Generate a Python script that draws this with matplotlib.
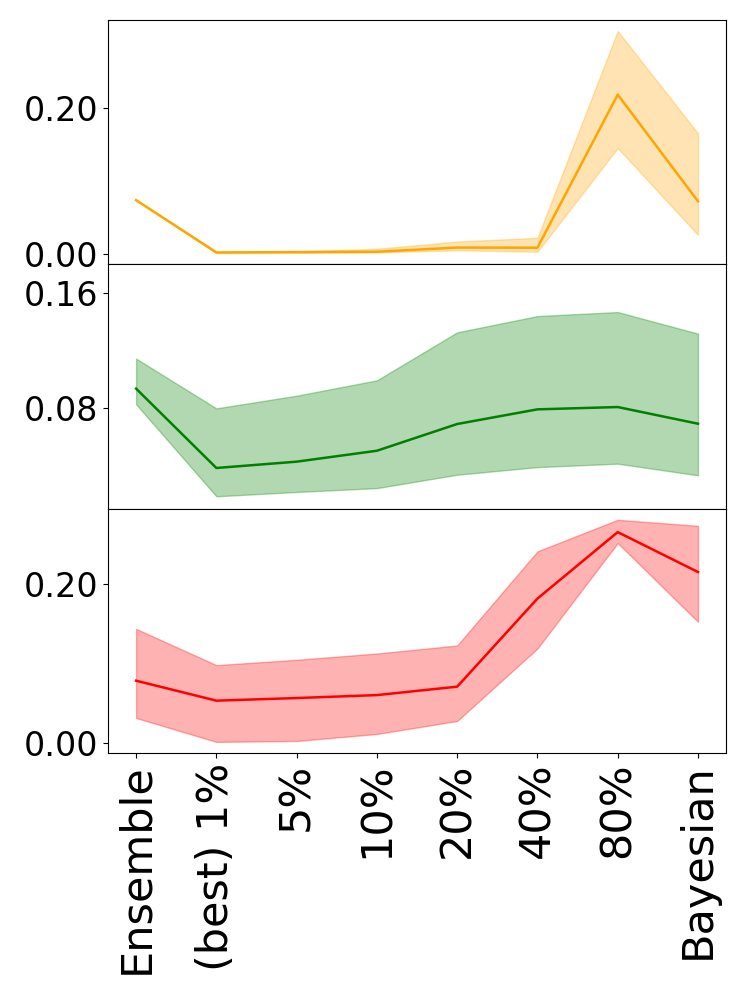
import matplotlib
matplotlib.use("Agg")
import matplotlib.pyplot as plt
import numpy as np

# x categories
labels = ["Ensemble", "(best) 1%", "5%", "10%", "20%", "40%", "80%", "Bayesian"]

# top panel (orange)
orange_mean = [0.0736, 0.002, 0.0025, 0.003, 0.0087, 0.0085, 0.218, 0.072]
orange_low = [0.0736, 0.001, 0.0015, 0.002, 0.005, 0.003, 0.145, 0.026]
orange_high = [0.0736, 0.003, 0.0035, 0.007, 0.017, 0.022, 0.305, 0.165]

# middle panel (green)
green_mean = [0.0935, 0.0383, 0.0427, 0.0503, 0.0689, 0.0791, 0.0807, 0.0691]
green_low = [0.0826, 0.0186, 0.0216, 0.0243, 0.0336, 0.0389, 0.0413, 0.0332]
green_high = [0.1144, 0.0798, 0.0886, 0.0993, 0.1327, 0.144, 0.1468, 0.1318]

# bottom panel (red)
red_mean = [0.0783, 0.0532, 0.0565, 0.0602, 0.0708, 0.1816, 0.2652, 0.215]
red_low = [0.0314, 0.0013, 0.0025, 0.0113, 0.0276, 0.1188, 0.2514, 0.1523]
red_high = [0.1435, 0.0979, 0.1046, 0.1125, 0.1226, 0.241, 0.2807, 0.2731]

panels = [
    (orange_mean, orange_low, orange_high, "orange", [0.0, 0.2]),
    (green_mean, green_low, green_high, "green", [0.08, 0.16]),
    (red_mean, red_low, red_high, "red", [0.0, 0.2]),
]

x = np.arange(len(labels))

fig, axes = plt.subplots(3, 1, figsize=(7.47, 9.97), dpi=100, sharex=True)
fig.subplots_adjust(left=0.1446, right=0.972, top=0.980, bottom=0.2447, hspace=0)

for ax, (mean, low, high, color, ticks) in zip(axes, panels):
    ax.plot(x, mean, color=color, linewidth=1.8)
    ax.fill_between(x, low, high, color=color, alpha=0.3)
    ax.set_yticks(ticks)
    ax.set_yticklabels(["%.2f" % t for t in ticks])
    ax.tick_params(axis="y", labelsize=24)

# the middle panel has a wider range than its data
axes[1].set_ylim(0.010, 0.180)

axes[-1].set_xticks(x)
axes[-1].set_xticklabels(labels, rotation=90, fontsize=31)

fig.savefig("out.png", dpi=100)
